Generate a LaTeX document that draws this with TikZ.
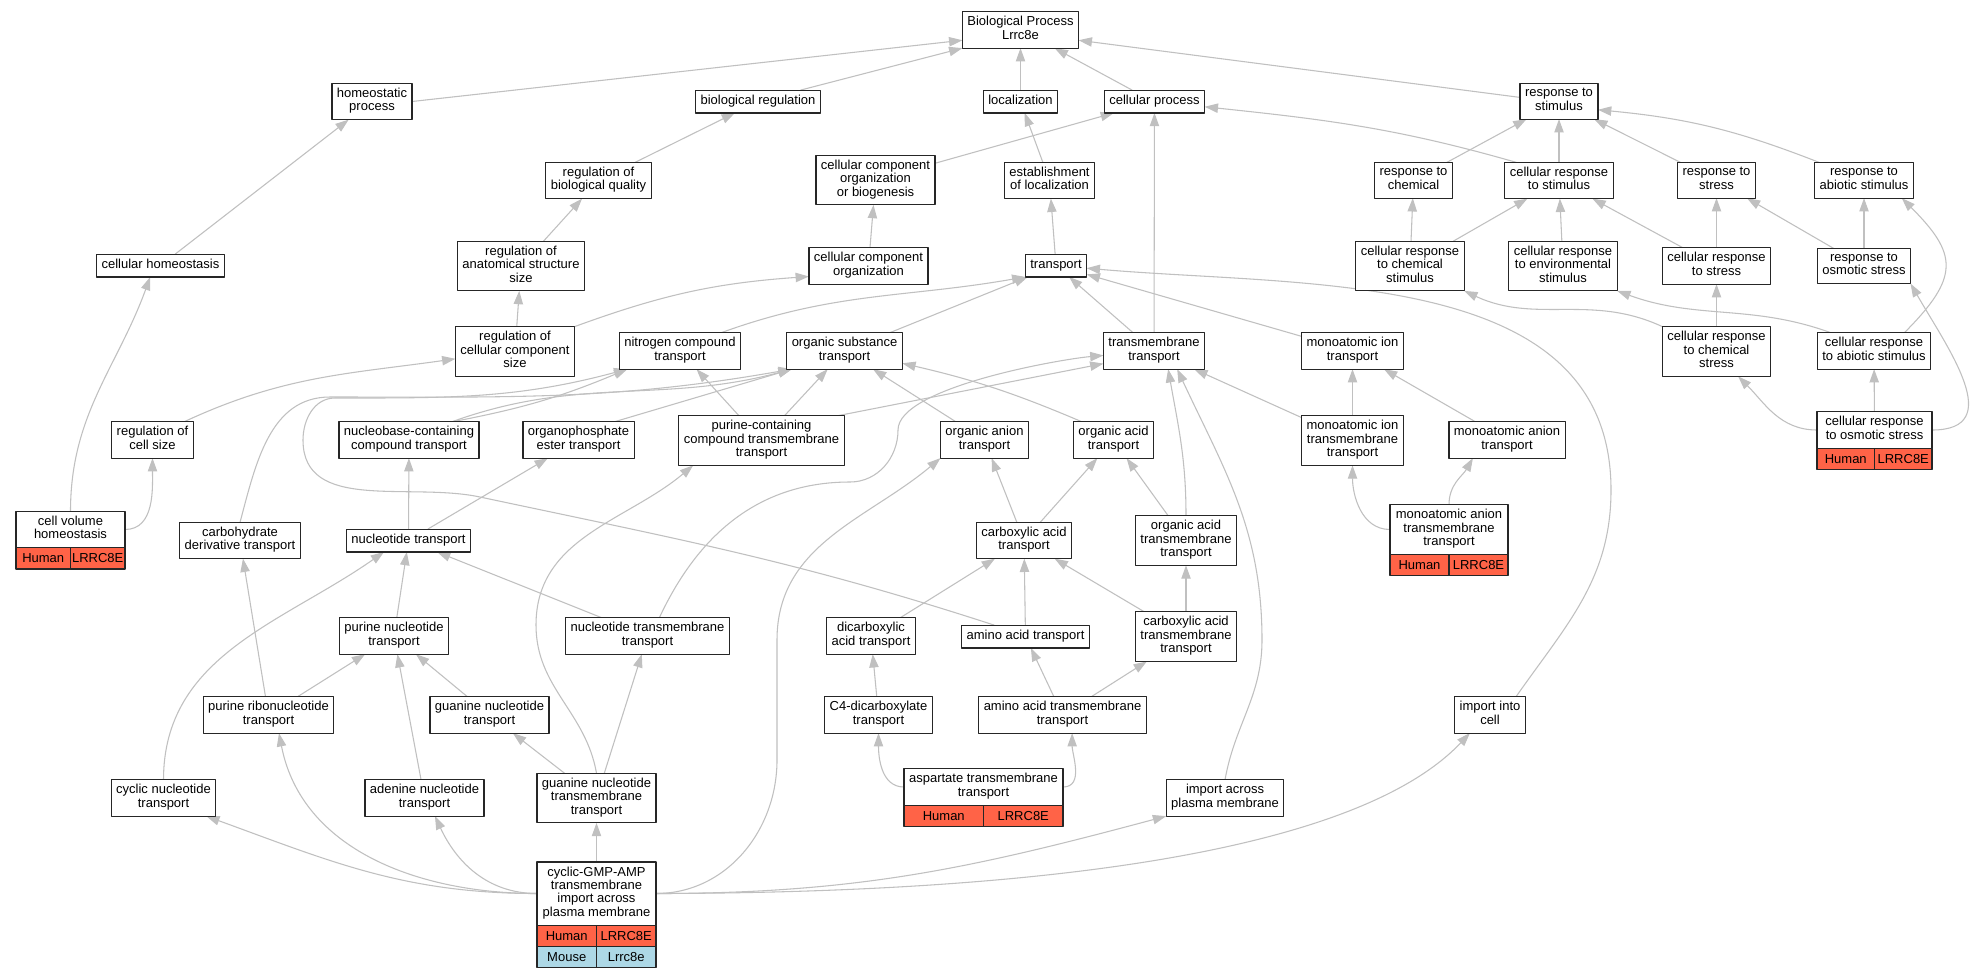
\documentclass[tikz,border=0pt]{standalone}
\usepackage{fontspec}
\setmainfont{Liberation Sans}
\usetikzlibrary{arrows.meta,backgrounds}
\definecolor{edgegray}{HTML}{C0C0C0}
\definecolor{tomato}{HTML}{FF6347}
\definecolor{lightblue}{HTML}{ADD8E6}
\begin{document}
\begin{tikzpicture}[x=0.75pt, y=0.75pt, font=\fontsize{9.75}{10.1}\selectfont, line join=round, line cap=round,
	box/.style={draw=black!85, line width=0.9pt, fill=white, align=center, outer sep=0pt,
		inner xsep=3.75pt, inner ysep=3.5pt, execute at begin node=\strut, execute at end node=\strut},
	genecell/.style={draw=black!85, line width=0.9pt, inner sep=0pt, outer sep=0pt, minimum height=16pt},
	hum/.style={genecell, fill=tomato},
	mou/.style={genecell, fill=lightblue},
	isa/.style={draw=edgegray, line width=0.8pt, -{Triangle[length=10pt,width=7pt]}}]
	\useasboundingbox (0,0) rectangle (1977,-979);
	% terms, row by row
	\node[box] (bp) at (1020.5,-30) {Biological Process\\Lrrc8e};
	\node[box] (homeo) at (372,-101.5) {homeostatic\\process};
	\node[box] (bioreg) at (758,-101.5) {biological regulation};
	\node[box] (local) at (1020.5,-101.5) {localization};
	\node[box] (cellproc) at (1154.5,-101.5) {cellular process};
	\node[box] (respstim) at (1559,-101.5) {response to\\stimulus};
	\node[box] (regbq) at (598.5,-180.5) {regulation of\\biological quality};
	\node[box] (ccoob) at (875.5,-180) {cellular component\\organization\\or biogenesis};
	\node[box] (estloc) at (1049.5,-180.5) {establishment\\of localization};
	\node[box] (respchem) at (1413.5,-180.5) {response to\\chemical};
	\node[box] (crstim) at (1559,-180.5) {cellular response\\to stimulus};
	\node[box] (respstress) at (1716.5,-180.5) {response to\\stress};
	\node[box] (respabio) at (1864,-180.5) {response to\\abiotic stimulus};
	\node[box] (cellhomeo) at (160.5,-265.5) {cellular homeostasis};
	\node[box] (regass) at (521,-266) {regulation of\\anatomical structure\\size};
	\node[box] (cco) at (868.5,-266) {cellular component\\organization};
	\node[box] (transport) at (1056,-265.5) {transport};
	\node[box] (crchemstim) at (1410,-266) {cellular response\\to chemical\\stimulus};
	\node[box] (crenv) at (1563,-266) {cellular response\\to environmental\\stimulus};
	\node[box] (crstress) at (1716.5,-266) {cellular response\\to stress};
	\node[box] (rosm) at (1864,-266) {response to\\osmotic stress};
	\node[box] (regccs) at (515,-351.5) {regulation of\\cellular component\\size};
	\node[box] (nct) at (680,-351) {nitrogen compound\\transport};
	\node[box] (ost) at (844.5,-351) {organic substance\\transport};
	\node[box] (tmt) at (1154,-351) {transmembrane\\transport};
	\node[box] (mit) at (1352.5,-351) {monoatomic ion\\transport};
	\node[box] (crchemstress) at (1716.5,-351.5) {cellular response\\to chemical\\stress};
	\node[box] (crabio) at (1874,-351) {cellular response\\to abiotic stimulus};
	\node[box] (regcs) at (152.5,-440) {regulation of\\cell size};
	\node[box] (ncct) at (409,-440) {nucleobase-containing\\compound transport};
	\node[box] (oet) at (578.5,-440) {organophosphate\\ester transport};
	\node[box] (pcctt) at (761.5,-440.5) {purine-containing\\compound transmembrane\\transport};
	\node[box] (oat) at (984.5,-440) {organic anion\\transport};
	\node[box] (oacid) at (1113.5,-440) {organic acid\\transport};
	\node[box] (mitt) at (1352.5,-440.5) {monoatomic ion\\transmembrane\\transport};
	\node[box] (mat) at (1507,-440) {monoatomic anion\\transport};
	\node[box, minimum width=86.25pt] (cros) at (1874.5,-430) {cellular response\\to osmotic stress};
	\node[box, minimum width=81.75pt] (cvh) at (70.5,-529.5) {cell volume\\homeostasis};
	\node[box] (cdt) at (240,-540.5) {carbohydrate\\derivative transport};
	\node[box] (nt) at (408.5,-540.5) {nucleotide transport};
	\node[box] (cat) at (1024,-540.5) {carboxylic acid\\transport};
	\node[box] (oatt) at (1186,-540.5) {organic acid\\transmembrane\\transport};
	\node[box, minimum width=88.5pt] (matt) at (1449,-529.5) {monoatomic anion\\transmembrane\\transport};
	\node[box] (pnt) at (394,-636) {purine nucleotide\\transport};
	\node[box] (ntt) at (647.5,-636) {nucleotide transmembrane\\transport};
	\node[box] (dicarb) at (871,-636) {dicarboxylic\\acid transport};
	\node[box] (aat) at (1025.5,-636.5) {amino acid transport};
	\node[box] (catt) at (1186,-636.5) {carboxylic acid\\transmembrane\\transport};
	\node[box] (prt) at (268.5,-715) {purine ribonucleotide\\transport};
	\node[box] (gnt) at (489.5,-715) {guanine nucleotide\\transport};
	\node[box] (c4) at (878.5,-715) {C4-dicarboxylate\\transport};
	\node[box] (aatt) at (1062.5,-715) {amino acid transmembrane\\transport};
	\node[box] (iic) at (1490,-715) {import into\\cell};
	\node[box] (cnt) at (163.5,-798) {cyclic nucleotide\\transport};
	\node[box] (ant) at (424.5,-798) {adenine nucleotide\\transport};
	\node[box] (gntt) at (596.5,-798) {guanine nucleotide\\transmembrane\\transport};
	\node[box, minimum width=119.25pt] (asp) at (983.5,-787) {aspartate transmembrane\\transport};
	\node[box] (iapm) at (1225,-798) {import across\\plasma membrane};
	\node[box, minimum width=89.25pt] (cgamp) at (596.5,-893.5) {cyclic-GMP-AMP\\transmembrane\\import across\\plasma membrane};
	% gene rows
	\foreach \n/\w in {cvh/81.75, cros/86.25, matt/88.5, asp/119.25, cgamp/89.25} {
		\node[hum, minimum width=\w pt/2, anchor=north west] (\n-h) at (\n.south west) {Human};
		\node[hum, minimum width=\w pt/2, anchor=north east] (\n-g) at (\n.south east) {LRRC8E};
	}
	\node[mou, minimum width=44.625pt, anchor=north west] (cgamp-m) at (cgamp-h.south west) {Mouse};
	\node[mou, minimum width=44.625pt, anchor=north east] (cgamp-l) at (cgamp-g.south east) {Lrrc8e};
	\begin{scope}[on background layer]
		\fill[white] (0,0) rectangle (1977,-979);
		\foreach \a/\b in {local/bp, cellhomeo/homeo, regbq/bioreg, regass/regbq, regccs/regass, cco/ccoob,
			ccoob/cellproc, estloc/local, transport/estloc, tmt/cellproc, respchem/respstim, crstim/respstim,
			respstress/respstim, crchemstim/respchem, crchemstim/crstim, crenv/crstim, crstress/crstim,
			crstress/respstress, rosm/respstress, rosm/respabio, crchemstress/crstress, cros/crabio,
			ost/transport, tmt/transport, mit/transport, mitt/mit, mat/mit, mitt/tmt, pcctt/nct, pcctt/ost,
			nt/ncct, nt/oet, pnt/nt, ntt/nt, prt/pnt, prt/cdt, gnt/pnt, ant/pnt, gntt/gnt, gntt/ntt,
			cgamp/gntt, oat/ost, cat/oat, cat/oacid, oatt/oacid, catt/cat, catt/oatt, dicarb/cat, aat/cat,
			c4/dicarb, aatt/aat, aatt/catt}
		\draw[isa] (\a) -- (\b);
		% edges leaving from a side, or bent
		\draw[isa] (homeo.east) -- (bp.190);
		\draw[isa] (bioreg.15) -- (bp.south west);
		\draw[isa] (cellproc.153) -- (bp.-28);
		\draw[isa] (respstim.174) -- (bp.-10);
		\draw[isa] (regccs.north east) to[bend left=8] (cco.190);
		\draw[isa] (cvh.north) to[out=90,in=-110] (cellhomeo.228);
		\draw[isa] (crstim.157) to[out=164,in=-6] (cellproc.-6);
		\draw[isa] (nct.24) to[out=20,in=190] (transport.south west);
		\draw[isa] (iic.35) to[out=55,in=-90] (1611,-490) to[out=90,in=-5] (transport.-5);
		\draw[isa] (matt.west) to[out=180,in=-90] (mitt.south);
		\draw[isa] (matt.north) to[out=90,in=-120] (mat.208);
		\draw[isa] (respabio.158) to[bend right=8] (respstim.-12);
		\draw[isa] (crchemstress.north west) to[out=155,in=-25] (crchemstim.south east);
		\draw[isa] (crabio.157) to[out=160,in=-20] (crenv.south east);
		\draw[isa] (crabio.31) to[out=45,in=-45,looseness=1.5] (respabio.-25);
		\draw[isa] (cros.west) to[out=180,in=-45] (crchemstress.-49);
		\draw[isa] (cros.east) to[out=0,in=-60,looseness=1.3] (rosm.south east);
		\draw[isa] (regcs.30) to[out=25,in=188] (regccs.187);
		\draw[isa] (cvh.east) to[out=0,in=-90] (regcs.south);
		\draw[isa] (ncct.23) to[bend right=6] (nct.199);
		\draw[isa] (ncct.23) to[out=20,in=195] (ost.199);
		\draw[isa] (oet.27) -- (ost.199);
		\draw[isa] (cdt.north) to[out=75,in=180] (330,-397) to[out=0,in=190] (ost.199);
		\draw[isa] (aat.160) to[out=162,in=-12] (480,-497) to[out=168,in=-90] (303,-440)
			to[out=90,in=180] (335,-398) to[out=0,in=195] (nct.199);
		\draw[isa] (pcctt.18) -- (tmt.194);
		\draw[isa] (ntt.57) to[out=65,in=180] (850,-482) to[out=0,in=-90] (898,-430)
			to[out=90,in=185,looseness=.5] (tmt.185);
		\draw[isa] (gntt.north) to[out=100,in=-90] (536,-625) to[out=90,in=-140] (pcctt.200);
		\draw[isa] (cnt.north) to[out=90,in=-145] (nt.205);
		\draw[isa] (cgamp.west) to[out=180,in=-20] (cnt.-23);
		\draw[isa] (cgamp.west) to[out=180,in=-79] (prt.-60);
		\draw[isa] (cgamp.west) to[out=180,in=-65] (ant.-60);
		\draw[isa] (cgamp.east) to[out=0,in=-90] (777,-760) -- (777,-640) to[out=90,in=-140] (oat.south west);
		\draw[isa] (cgamp.east) to[out=0,in=-165] (iapm.south west);
		\draw[isa] (cgamp.east) .. controls (1000,-893) and (1350,-860) .. (iic.222);
		\draw[isa] (iapm.north) to[out=80,in=-90] (1262,-640) to[out=90,in=-65] (tmt.-38);
		\draw[isa] (oacid.150) to[bend right=5] (ost.-12);
		\draw[isa] (oatt.north) to[out=90,in=-80] (tmt.-52);
		\draw[isa] (asp.west) to[out=180,in=-90] (c4.south);
		\draw[isa] (asp.east) to[out=0,in=-90] (aatt.-62);
	\end{scope}
\end{tikzpicture}
\end{document}
